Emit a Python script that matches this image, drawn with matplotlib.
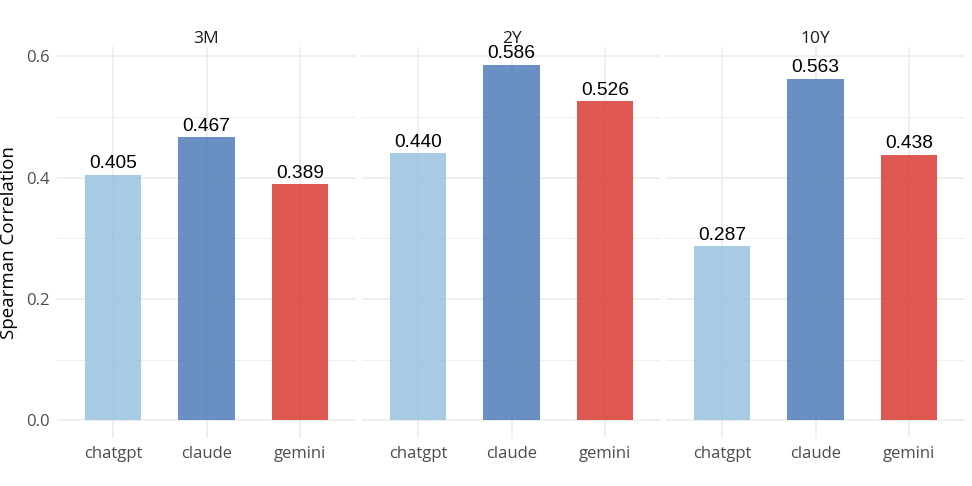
import matplotlib.pyplot as plt
import numpy as np

plt.rcParams['font.family'] = ['Open Sans', 'DejaVu Sans']

facets = ["3M", "2Y", "10Y"]
models = ["chatgpt", "claude", "gemini"]
spearman = {
    "3M": [0.405, 0.467, 0.389],
    "2Y": [0.440, 0.586, 0.526],
    "10Y": [0.287, 0.563, 0.438],
}
colors = ["#91bfdb", "#4575b4", "#d73027"]
yticks = [0.0, 0.2, 0.4, 0.6]

W, H = 972, 486
fig = plt.figure(figsize=(W / 100, H / 100), dpi=100)

lefts = [57, 362, 666]
pw = 299
top, bot = 47, 438
ymax = max(max(v) for v in spearman.values())
ylo, yhi = -0.05 * ymax, ymax * 1.05

for i, f in enumerate(facets):
    ax = fig.add_axes([lefts[i] / W, (H - bot) / H, pw / W, (bot - top) / H])
    x = np.arange(1, len(models) + 1)
    vals = spearman[f]
    ax.bar(x, vals, width=0.6, color=colors, alpha=0.8, zorder=2, linewidth=0)
    for xi, v in zip(x, vals):
        ax.text(xi, v + 0.004, f"{v:.3f}", ha="center", va="bottom",
                fontsize=13.8, color="black", zorder=3,
                family=["Liberation Sans", "DejaVu Sans"])
    ax.set_xlim(0.4, 3.6)
    ax.set_ylim(ylo, yhi)
    ax.set_xticks(x)
    ax.set_xticklabels(models)
    ax.set_yticks(yticks)
    ax.set_yticks([0.1, 0.3, 0.5], minor=True)
    if i == 0:
        ax.set_yticklabels([f"{t:.1f}" for t in yticks])
        ax.set_ylabel("Spearman Correlation", fontsize=13.5, color="black", labelpad=6)
    else:
        ax.set_yticklabels([])
    ax.tick_params(axis="both", which="both", length=0, labelsize=12, colors="#4d4d4d", pad=5)
    ax.tick_params(axis="x", pad=6)
    ax.grid(True, which="major", color="#ebebeb", linewidth=1.1, zorder=1)
    ax.grid(True, which="minor", axis="y", color="#ebebeb", linewidth=0.6, zorder=1)
    ax.set_axisbelow(True)
    for s in ax.spines.values():
        s.set_visible(False)
    ax.set_title(f, fontsize=12.5, color="#1a1a1a", pad=3)

fig.savefig("out.png", dpi=100)
